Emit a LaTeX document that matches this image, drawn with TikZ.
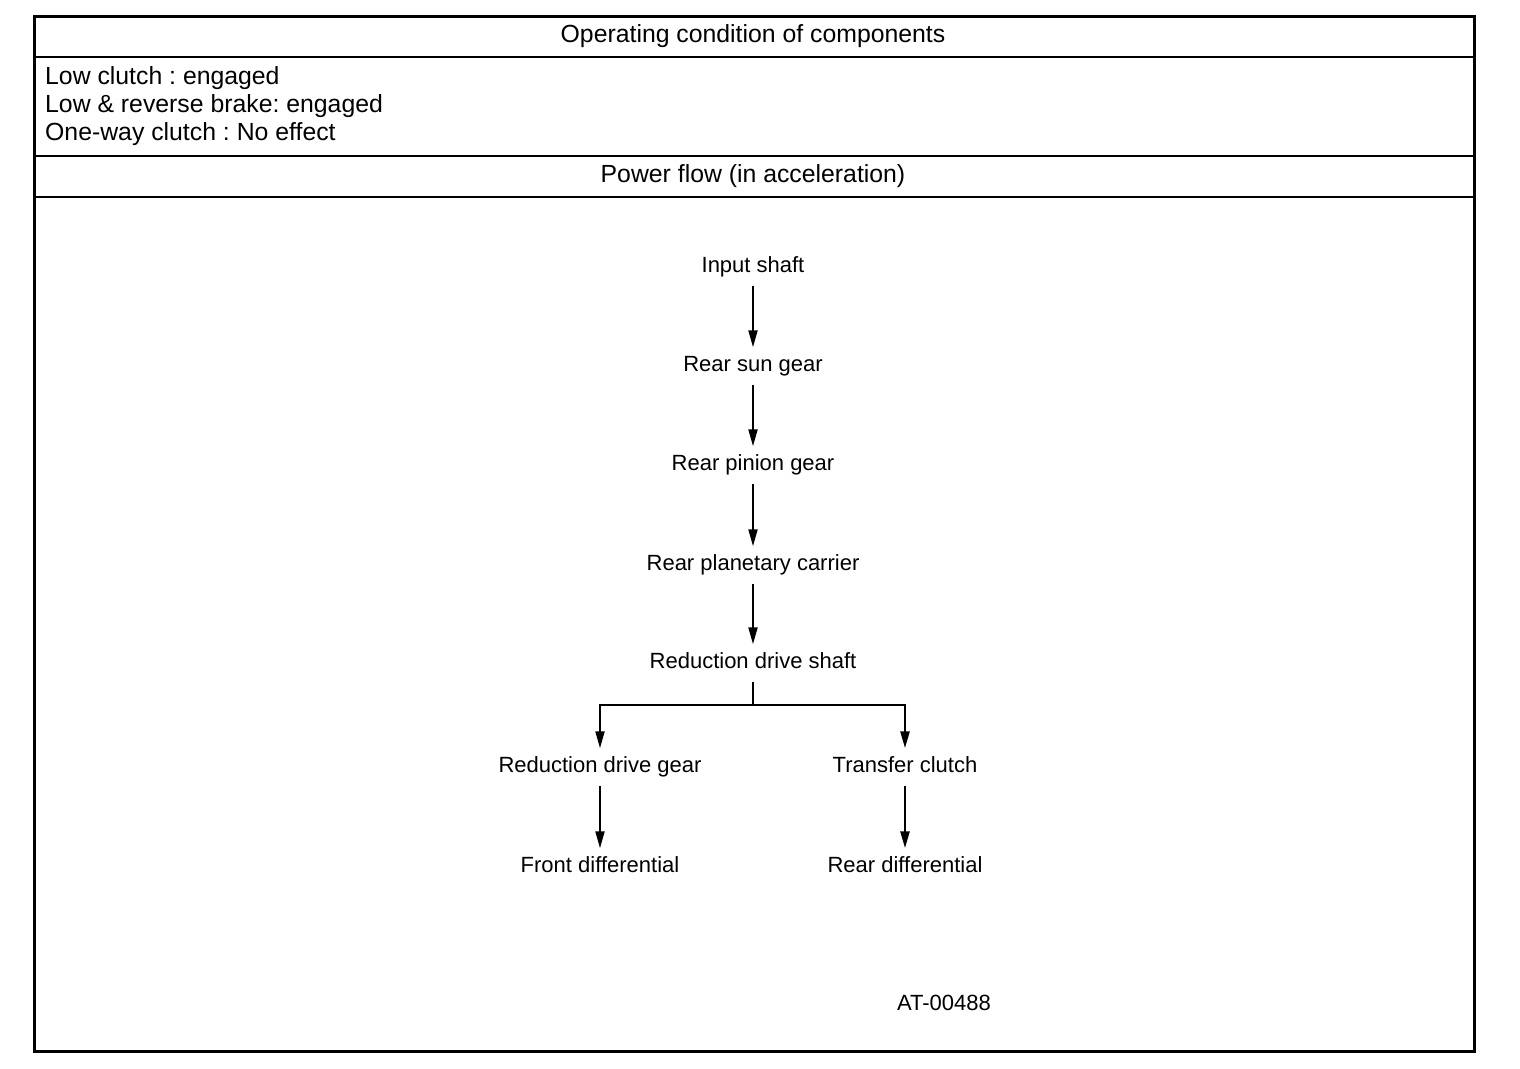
\documentclass[tikz,border=0pt]{standalone}
\usepackage{fontspec}
\setmainfont{Liberation Sans}
\usetikzlibrary{arrows.meta}
\begin{document}
\frenchspacing
\begin{tikzpicture}[x=1pt,y=-1pt,
  every node/.style={font=\fontsize{22}{28}\selectfont},
  head/.style={font=\fontsize{24.8}{27.6}\selectfont},
  lbl/.style={inner xsep=2pt,inner ysep=8pt,text height=16pt,text depth=5pt},
  flow/.style={line width=2pt,-{Triangle[length=17pt,width=9pt]}},
  frame/.style={line width=3pt},
  rule/.style={line width=2pt}]
\useasboundingbox (0,0) rectangle (1520,1068);
\draw[frame] (34,16) rectangle (1474,1051);
\draw[rule] (34,57) -- (1474,57);
\draw[rule] (34,156) -- (1474,156);
\draw[rule] (34,197) -- (1474,197);
\node[head] (t1) at (753,36) {Operating condition of components};
\node[head,anchor=west,align=left,inner xsep=0pt] (cond) at (45,106) {Low clutch : engaged\\Low \& reverse brake: engaged\\One-way clutch : No effect};
\node[head] (t2) at (753,176) {Power flow (in acceleration)};
\node[lbl] (a) at (753,267) {Input shaft};
\node[lbl] (b) at (753,366) {Rear sun gear};
\node[lbl] (c) at (753,465) {Rear pinion gear};
\node[lbl] (d) at (753,565) {Rear planetary carrier};
\node[lbl] (e) at (753,663) {Reduction drive shaft};
\node[lbl] (f) at (600,767) {Reduction drive gear};
\node[lbl] (g) at (905,767) {Transfer clutch};
\node[lbl] (h) at (600,867) {Front differential};
\node[lbl] (i) at (905,867) {Rear differential};
\node (id) at (944,1003) {AT-00488};
\draw[flow] (a) -- (b);
\draw[flow] (b) -- (c);
\draw[flow] (c) -- (d);
\draw[flow] (d) -- (e);
\coordinate (j) at (753,705);
\draw[line width=2pt] (e) -- (j);
\draw[flow] (j) -| (f);
\draw[flow,line width=2.6pt] (j) -| (g);
\draw[flow] (f) -- (h);
\draw[flow,line width=2.6pt] (g) -- (i);
\end{tikzpicture}
\end{document}
